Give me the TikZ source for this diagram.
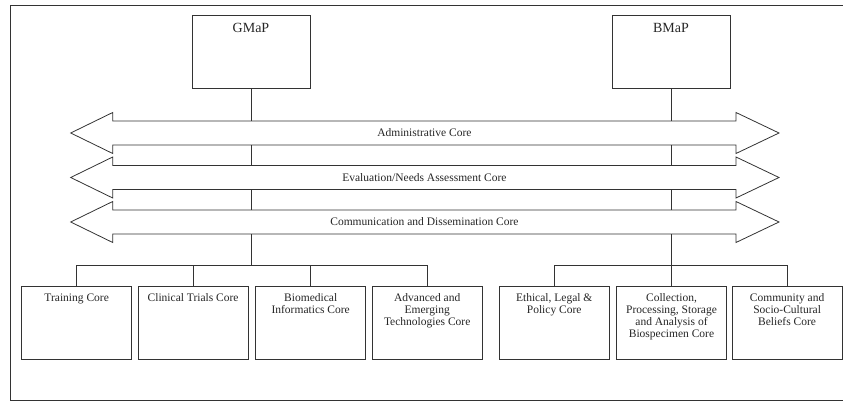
\documentclass[tikz,border=0pt]{standalone}
\usepackage{fontspec}
\setmainfont{Liberation Serif}
\newcommand\myarrow[1]{%
  \draw[ln] (112.7,#1-12) -- (736,#1-12) -- (736,#1-20.5) -- (779,#1) -- (736,#1+20.5)
    -- (736,#1+12) -- (112.7,#1+12) -- (112.7,#1+20.5) -- (70.7,#1) -- (112.7,#1-20.5) -- cycle;}
\begin{document}
\begin{tikzpicture}[x=1pt,y=-1pt,
  ln/.style={line width=0.8pt, draw=black!80},
  txt/.style={font=\fontsize{11.5}{12}\selectfont, text=black!85, align=center, inner sep=0pt},
  top/.style={ln, minimum width=118pt, minimum height=73pt, inner sep=0pt},
  core/.style={ln, minimum width=110pt, minimum height=72.3pt, inner sep=0pt},
  shaft/.style={minimum width=623.3pt, minimum height=24pt, inner sep=0pt, txt}]
\useasboundingbox (0,0) rectangle (843,403);
\draw[ln] (843,5) -- (10,5) -- (10,400) -- (843,400);
% top boxes
\node[top] (g) at (251,51.5) {};
\node[top] (b) at (671,51.5) {};
\node[txt, font=\fontsize{14}{16}\selectfont, anchor=north] (gt) at (251,23) {GMaP};
\node[txt, font=\fontsize{14}{16}\selectfont, anchor=north] (bt) at (671,23) {BMaP};
% arrows
\myarrow{133}
\myarrow{177.5}
\myarrow{222}
\node[shaft] (a1) at (424.4,133) {Administrative Core};
\node[shaft] (a2) at (424.4,177.5) {Evaluation/Needs Assessment Core};
\node[shaft] (a3) at (424.4,222) {Communication and Dissemination Core};
% verticals
\draw[ln] (g.south) -- (g.south |- a1.north);
\draw[ln] (b.south) -- (b.south |- a1.north);
\draw[ln] (g.south |- a1.south) -- (g.south |- a2.north);
\draw[ln] (b.south |- a1.south) -- (b.south |- a2.north);
\draw[ln] (g.south |- a2.south) -- (g.south |- a3.north);
\draw[ln] (b.south |- a2.south) -- (b.south |- a3.north);
% core boxes
\node[core] (c1) at (76.7,322.85) {};
\node[core] (c2) at (193.1,322.85) {};
\node[core] (c3) at (310.7,322.85) {};
\node[core] (c4) at (427.2,322.85) {};
\node[core] (c5) at (554.2,322.85) {};
\node[core] (c6) at (671.5,322.85) {};
\node[core] (c7) at (787.1,322.85) {};
\foreach \n/\t in {c1/{Training Core}, c2/{Clinical Trials Core}, c3/{Biomedical\\Informatics Core},
  c4/{Advanced and\\Emerging\\Technologies Core}, c5/{Ethical, Legal \&\\Policy Core},
  c6/{Collection,\\Processing, Storage\\and Analysis of\\Biospecimen Core},
  c7/{Community and\\Socio-Cultural\\Beliefs Core}}
  \node[txt, anchor=north] (\n t) at ([yshift=-7.5pt]\n.north) {\t};
% tree connectors
\coordinate (lj) at (251,265.7);
\coordinate (rj) at (671,265.7);
\draw[ln] (g.south |- a3.south) -- (lj);
\draw[ln] (b.south |- a3.south) -- (rj);
\draw[ln] (c1.north) -- (c1.north |- lj) -- (c4.north |- lj) -- (c4.north);
\draw[ln] (c2.north) -- (c2.north |- lj);
\draw[ln] (c3.north) -- (c3.north |- lj);
\draw[ln] (c5.north) -- (c5.north |- rj) -- (c7.north |- rj) -- (c7.north);
\draw[ln] (c6.north) -- (c6.north |- rj);
\end{tikzpicture}
\end{document}
